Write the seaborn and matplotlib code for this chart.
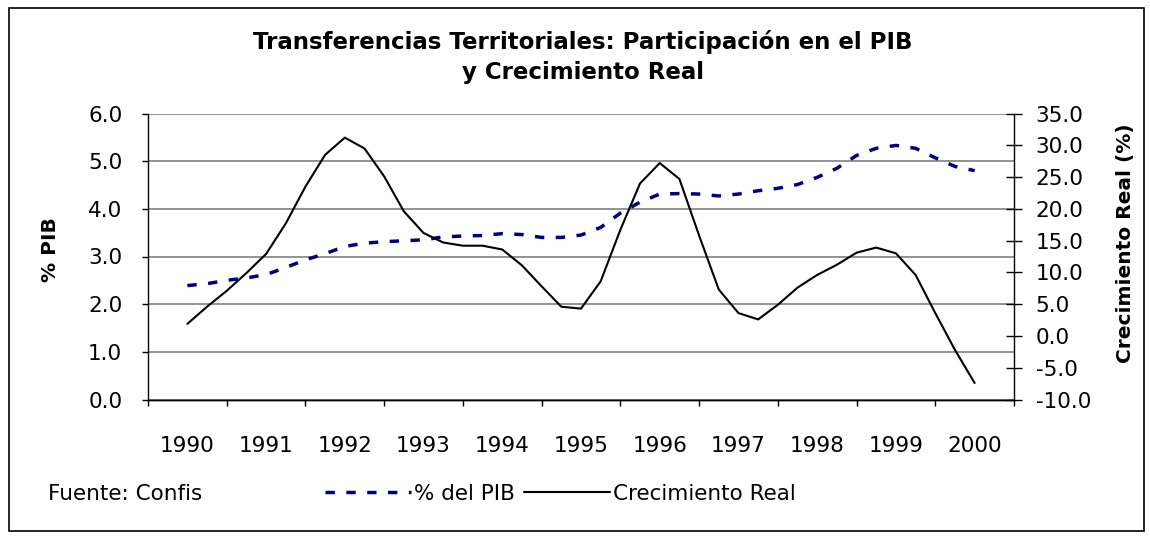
import matplotlib
matplotlib.use("Agg")
import matplotlib.pyplot as plt
import seaborn as sns
import numpy as np
import pandas as pd
from matplotlib.patches import Rectangle
from matplotlib.ticker import FixedLocator, NullFormatter, FixedFormatter

# ---------------- data (quarterly, 1990 Q1 .. 2000 Q1) ----------------
years = [1990, 1991, 1992, 1993, 1994, 1995, 1996, 1997, 1998, 1999, 2000]
year_labels = [str(y) for y in years]
quarter_index = list(range(41))

pib_pct = [2.39, 2.43, 2.50, 2.55, 2.62, 2.77, 2.93, 3.06, 3.21, 3.28,
           3.31, 3.33, 3.35, 3.41, 3.43, 3.44, 3.48, 3.46, 3.40, 3.40,
           3.45, 3.61, 3.91, 4.14, 4.31, 4.32, 4.31, 4.27, 4.31, 4.38,
           4.43, 4.51, 4.66, 4.85, 5.12, 5.27, 5.33, 5.27, 5.07, 4.89,
           4.80]
crec_real = [1.9, 4.6, 7.1, 9.9, 12.9, 17.7, 23.5, 28.5, 31.2, 29.5,
             25.1, 19.6, 16.2, 14.7, 14.2, 14.2, 13.6, 11.1, 7.8, 4.6,
             4.3, 8.6, 16.7, 24.0, 27.2, 24.7, 15.8, 7.3, 3.6, 2.6,
             4.9, 7.6, 9.6, 11.2, 13.1, 13.9, 13.0, 9.6, 3.6, -2.2,
             -7.4]

left_ticks = [0, 1, 2, 3, 4, 5, 6]
right_ticks = [-10, -5, 0, 5, 10, 15, 20, 25, 30, 35]

title = "Transferencias Territoriales: Participación en el PIB\ny Crecimiento Real"
label_pib = "% del PIB"
label_crec = "Crecimiento Real"
ylabel_left = "% PIB"
ylabel_right = "Crecimiento Real (%)"
source = "Fuente: Confis"

# ---------------- styling ----------------
sns.set_theme(style="white")
plt.rcParams["font.family"] = ["DejaVu Sans"]
plt.rcParams["text.color"] = "black"
FS = 15.5

W, H = 1150, 537
fig = plt.figure(figsize=(W / 100, H / 100), dpi=100)
fig.patch.set_facecolor("white")

def fx(px):
    return px / W

def fy(py):
    return 1 - py / H

ax_left, ax_right, ax_top, ax_bot = 148, 1014, 113.5, 399.5
ax = fig.add_axes([fx(ax_left), fy(ax_bot), fx(ax_right - ax_left), (ax_bot - ax_top) / H])
ax2 = ax.twinx()

df = pd.DataFrame({
    "x": [years[0] + q / 4 for q in quarter_index],
    "pib": pib_pct,
    "crec": crec_real,
})

sns.lineplot(data=df, x="x", y="pib", ax=ax, color="#000080", linewidth=2.5,
             estimator=None, sort=False, label=label_pib, legend=False)
sns.lineplot(data=df, x="x", y="crec", ax=ax2, color="black", linewidth=1.5,
             estimator=None, sort=False, label=label_crec, legend=False)

l_pib = ax.get_lines()[0]
l_pib.set_dashes((2.7, 3.3))
l_pib.set_dash_capstyle("butt")

# axis limits
ax.set_xlim(1989.5, 2000.5)
ax.set_ylim(0, 6)
ax2.set_ylim(-10, 35)

# x ticks: marks between years, labels at year centres
ax.xaxis.set_major_locator(FixedLocator([y - 0.5 for y in years] + [years[-1] + 0.5]))
ax.xaxis.set_major_formatter(NullFormatter())
ax.xaxis.set_minor_locator(FixedLocator(years))
ax.xaxis.set_minor_formatter(FixedFormatter(year_labels))
ax.tick_params(axis="x", which="major", direction="out", length=4, width=1, color="black", bottom=True)
ax.tick_params(axis="x", which="minor", length=0, pad=26, labelsize=FS, labelcolor="black", bottom=True)

# left y
ax.set_yticks(left_ticks)
ax.set_yticklabels([f"{v:.1f}" for v in left_ticks])
ax.tick_params(axis="y", which="major", direction="out", length=4.5, width=1, color="black",
               left=True, labelsize=FS, pad=14, labelcolor="black")

# right y
ax2.set_yticks(right_ticks)
ax2.set_yticklabels([f"{v:.1f}" for v in right_ticks])
ax2.tick_params(axis="y", which="major", direction="inout", length=11, width=1, color="black",
                right=True, labelsize=FS, pad=10, labelcolor="black")
ax2.set_ylabel("")
ax.set_ylabel("")
ax.set_xlabel("")

# gridlines
ax.grid(axis="y", color="#808080", linewidth=1.2)
ax.grid(axis="x", visible=False)
ax2.grid(False)
ax.set_axisbelow(True)

for a in (ax, ax2):
    a.spines["top"].set_visible(False)
    for s in ("left", "right", "bottom"):
        a.spines[s].set_color("black")
        a.spines[s].set_linewidth(1)
ax.spines["right"].set_visible(False)
ax2.spines["left"].set_visible(False)
ax.patch.set_visible(False)

# texts
fig.text(fx(583), fy(57), title, ha="center", va="center", fontsize=16.5,
         fontweight="bold", linespacing=1.35, color="black")
fig.text(fx(50), fy(250), ylabel_left, rotation=90, ha="center", va="center",
         fontsize=14.5, fontweight="bold", color="black")
fig.text(fx(1125), fy(363), ylabel_right, rotation=90, ha="center", va="bottom",
         fontsize=14.5, fontweight="bold", color="black")
fig.text(fx(48), fy(494), source, ha="left", va="center", fontsize=FS, color="black")

# legend
handles = [ax.get_lines()[0], ax2.get_lines()[0]]
leg = fig.legend(handles, [label_pib, label_crec], loc="center left",
                 bbox_to_anchor=(fx(325), fy(494)), ncol=2, frameon=False,
                 fontsize=FS, handlelength=4.0, handletextpad=0.15,
                 columnspacing=0.4, borderpad=0, borderaxespad=0)
for t in leg.get_texts():
    t.set_color("black")

# outer frame
fig.patches.append(Rectangle((fx(9), fy(531)), fx(1144 - 9), (531 - 7.5) / H,
                             transform=fig.transFigure, fill=False,
                             edgecolor="black", linewidth=1.2))

fig.savefig("out.png", dpi=100, facecolor="white")
